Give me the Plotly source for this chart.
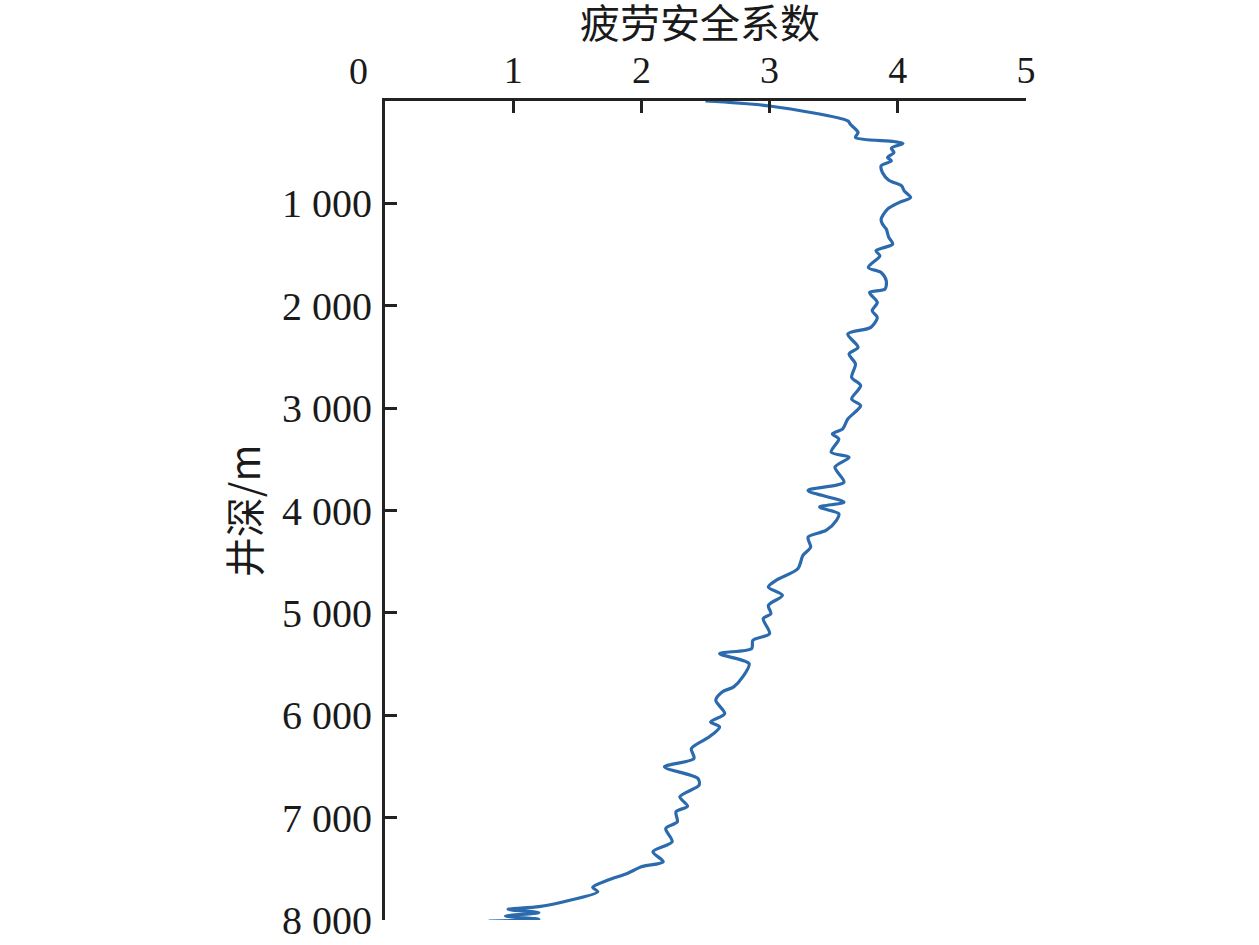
import plotly.graph_objects as go

# Fatigue safety factor vs well depth
depth_m = [0, 49, 195, 228, 308, 357, 396, 415, 461, 503, 552, 585, 634, 698, 774, 829, 878, 943,
           992, 1056, 1154, 1202, 1251, 1333, 1398, 1463, 1512, 1626, 1675, 1756, 1837, 1870, 1967,
           2049, 2113, 2211, 2276, 2406, 2471, 2569, 2699, 2780, 2911, 2976, 3106, 3203, 3252, 3301,
           3431, 3480, 3577, 3724, 3805, 3918, 3967, 4032, 4098, 4195, 4260, 4358, 4439, 4569, 4683,
           4748, 4829, 4927, 5008, 5057, 5203, 5268, 5349, 5398, 5496, 5626, 5723, 5772, 5854, 5984,
           6065, 6114, 6211, 6325, 6422, 6504, 6617, 6683, 6797, 6888, 6943, 7041, 7106, 7236, 7333,
           7431, 7480, 7545, 7610, 7680, 7724, 7805, 7870, 7896, 7928, 7961, 7993, 8010]
safety_factor = [2.50, 3.00, 3.61, 3.63, 3.69, 3.67, 3.97, 4.04, 3.95, 3.97, 3.92, 3.95, 3.87, 3.88,
                 3.93, 4.03, 4.05, 4.10, 4.01, 3.92, 3.87, 3.88, 3.91, 3.93, 3.96, 3.83, 3.86, 3.77,
                 3.87, 3.91, 3.90, 3.78, 3.84, 3.80, 3.84, 3.79, 3.61, 3.69, 3.62, 3.67, 3.64, 3.71,
                 3.64, 3.71, 3.61, 3.57, 3.49, 3.54, 3.48, 3.62, 3.51, 3.58, 3.30, 3.58, 3.39, 3.54,
                 3.52, 3.44, 3.30, 3.32, 3.26, 3.22, 3.05, 2.99, 3.10, 2.99, 3.01, 2.95, 3.00, 2.87,
                 2.86, 2.61, 2.84, 2.79, 2.72, 2.63, 2.58, 2.65, 2.54, 2.61, 2.53, 2.39, 2.41, 2.18,
                 2.44, 2.45, 2.30, 2.36, 2.27, 2.28, 2.19, 2.24, 2.09, 2.17, 2.00, 1.89, 1.74, 1.62,
                 1.66, 1.45, 1.20, 0.96, 1.20, 0.94, 1.20, 0.81]

x_tickvals = [1, 2, 3, 4, 5]
y_tickvals = [1000, 2000, 3000, 4000, 5000, 6000, 7000, 8000]
y_ticktext = ["1 000", "2 000", "3 000", "4 000", "5 000", "6 000", "7 000", "8 000"]

FONT = "Liberation Serif, Times New Roman, serif"
CJK = "Noto Sans CJK SC"

fig = go.Figure()
fig.add_trace(go.Scatter(
    x=safety_factor, y=depth_m, mode="lines",
    line=dict(color="#2a6aad", width=3.2, shape="spline", smoothing=0.8),
    showlegend=False,
))

fig.update_layout(
    width=1259, height=945, autosize=False,
    margin=dict(l=385, r=233, t=101, b=25),
    paper_bgcolor="white", plot_bgcolor="white",
    font=dict(family=FONT, size=38, color="#1a1a1a"),
    xaxis=dict(
        side="top", range=[0, 5], tickvals=x_tickvals, automargin=False,
        ticks="inside", ticklen=12, tickwidth=3, tickcolor="#222",
        showline=True, linecolor="#222", linewidth=3, mirror=False,
        showgrid=False, zeroline=False,
        tickfont=dict(size=38, family=FONT), ticklabelstandoff=0,
    ),
    yaxis=dict(
        range=[8000, 0], tickvals=y_tickvals, ticktext=y_ticktext, automargin=False,
        ticks="inside", ticklen=12, tickwidth=3, tickcolor="#222",
        showline=True, linecolor="#222", linewidth=3, mirror=False,
        showgrid=False, zeroline=False,
        tickfont=dict(size=40, family=FONT), ticklabelstandoff=2,
    ),
)

# Axis titles and the offset "0" label placed as annotations (paper coords)
fig.add_annotation(
    text="疲劳安全系数", xref="paper", yref="paper", x=0.492, y=1.098,
    showarrow=False, font=dict(size=40, family=CJK, color="#1a1a1a"),
    xanchor="center", yanchor="middle",
)
fig.add_annotation(
    text="井深/m", xref="paper", yref="paper", x=-0.222, y=0.50,
    textangle=-90, showarrow=False, font=dict(size=40, family=CJK, color="#1a1a1a"),
    xanchor="center", yanchor="middle",
)
fig.add_annotation(
    text="0", xref="paper", yref="paper", x=-0.042, y=1.0366,
    showarrow=False, font=dict(size=38, family=FONT, color="#1a1a1a"),
    xanchor="center", yanchor="middle",
)

# remove the default page margin so the figure fills the window exactly
fig.write_html("out.html", config={"displayModeBar": False},
               post_script="document.body.style.margin='0';")
